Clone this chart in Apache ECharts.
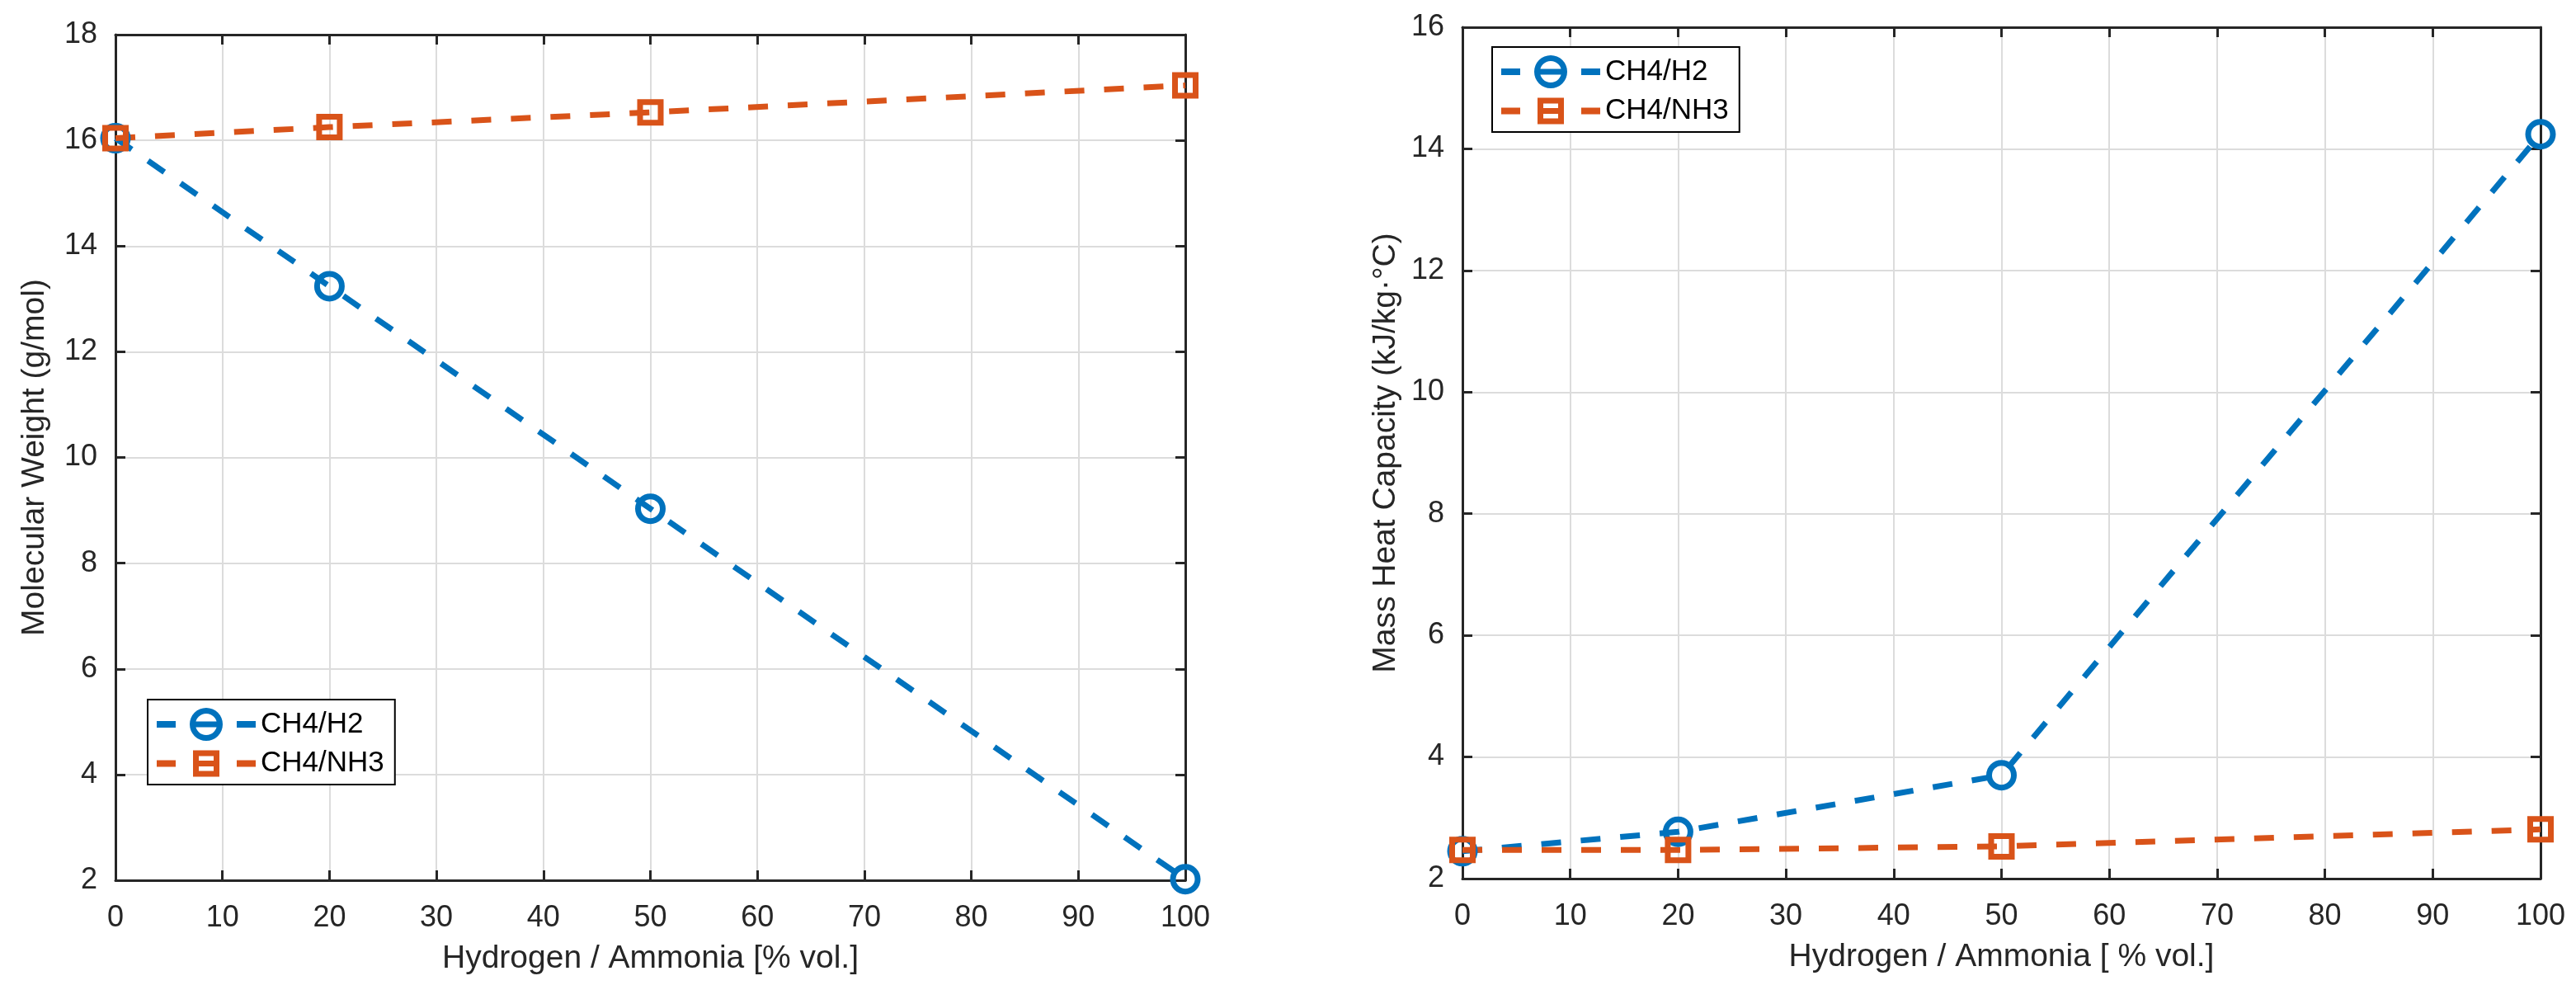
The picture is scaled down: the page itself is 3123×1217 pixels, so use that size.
<!DOCTYPE html>
<html>
<head>
    <meta charset="utf-8">
    <title>CH4 blends</title>
    <script src="https://cdn.jsdelivr.net/npm/echarts@6/dist/echarts.min.js"></script>
    <style>
        html, body { margin: 0; padding: 0; background: #fff; }
        #chart { width: 3123px; height: 1217px; }
    </style>
</head>
<body>
<div id="chart"></div>
<script>
    // x values: hydrogen / ammonia share [% vol.]
    const fractions = [0, 20, 50, 100];
    const seriesNames = ['CH4/H2', 'CH4/NH3'];

    // left: molecular weight (g/mol)
    const mwH2 = [16.04, 13.24, 9.03, 2.02];
    const mwNH3 = [16.04, 16.25, 16.53, 17.04];

    // right: mass heat capacity (kJ/kg.°C)
    const cpH2 = [2.45, 2.77, 3.70, 14.24];
    const cpNH3 = [2.47, 2.47, 2.53, 2.81];

    const BLUE = '#0072BD';
    const ORANGE = '#D95319';
    const TXT = '#262626';
    const FONT = 'Liberation Sans';

    // MATLAB-like legend glyphs: dash, marker with line through it, dash
    const ICON_CIRCLE = 'path://M0 16H23V24H0Z M97 16H120V24H97Z ' +
        'M40 20A20 20 0 1 1 80 20A20 20 0 1 1 40 20Z ' +
        'M47 20A13 13 0 1 0 73 20A13 13 0 1 0 47 20Z M47 16.5H73V23.5H47Z';
    const ICON_SQUARE = 'path://M0 16H23V24H0Z M97 16H120V24H97Z ' +
        'M44 4H76V36H44Z M51 11V29H69V11Z M51 16.5H69V23.5H51Z';

    function pts(ys) {
        return fractions.map((x, i) => [x, ys[i]]);
    }

    function xAxes(grid, title) {
        const base = {
            gridIndex: grid, type: 'value', min: 0, max: 100, interval: 10,
            axisLine: { onZero: false, lineStyle: { color: TXT, width: 3 } },
            axisTick: { inside: true, length: 12, lineStyle: { width: 3, color: TXT } }
        };
        return [
            Object.assign({}, base, {
                position: 'bottom',
                name: title, nameLocation: 'middle', nameGap: 76,
                nameTextStyle: { fontSize: 39, color: TXT, fontFamily: FONT },
                axisLabel: { fontSize: 36, color: TXT, fontFamily: FONT, margin: 28 },
                splitLine: { show: true, lineStyle: { color: '#dcdcdc', width: 2 } }
            }),
            Object.assign({}, base, {
                position: 'top',
                axisLabel: { show: false },
                splitLine: { show: false }
            })
        ];
    }

    function yAxes(grid, min, max, title, gap) {
        const base = {
            gridIndex: grid, type: 'value', min: min, max: max, interval: 2,
            axisLine: { show: true, onZero: false, lineStyle: { color: TXT, width: 3 } },
            axisTick: { show: true, inside: true, length: 12, lineStyle: { width: 3, color: TXT } }
        };
        return [
            Object.assign({}, base, {
                position: 'left',
                name: title, nameLocation: 'middle', nameGap: gap,
                nameTextStyle: { fontSize: 39, color: TXT, fontFamily: FONT },
                axisLabel: { fontSize: 36, color: TXT, fontFamily: FONT, margin: 22 },
                splitLine: { show: true, lineStyle: { color: '#dcdcdc', width: 2 } }
            }),
            Object.assign({}, base, {
                position: 'right',
                axisLabel: { show: false },
                splitLine: { show: false }
            })
        ];
    }

    function lineSeries(name, ys, xi, yi, color, symbol, size) {
        return {
            name: name, type: 'line', xAxisIndex: xi, yAxisIndex: yi,
            data: pts(ys),
            clip: false,
            symbol: symbol, symbolSize: size,
            lineStyle: { color: color, width: 7, type: [24, 24] },
            itemStyle: { color: 'rgba(0,0,0,0)', borderColor: color, borderWidth: 7 },
            emphasis: { disabled: true },
            animation: false
        };
    }

    function legend(left, top) {
        return {
            orient: 'vertical', left: left, top: top,
            itemWidth: 120, itemHeight: 40, itemGap: 10,
            symbolKeepAspect: true,
            padding: [10, 13, 8, 11],
            borderColor: '#000', borderWidth: 2, backgroundColor: '#fff',
            textStyle: { fontSize: 35, color: '#000', fontFamily: FONT, padding: [0, 0, 0, 1] },
            selectedMode: false,
            data: [
                { name: seriesNames[0], icon: ICON_CIRCLE, itemStyle: { color: BLUE, borderWidth: 0 } },
                { name: seriesNames[1], icon: ICON_SQUARE, itemStyle: { color: ORANGE, borderWidth: 0 } }
            ]
        };
    }

    const chart = echarts.init(document.getElementById('chart'));
    chart.setOption({
        backgroundColor: '#fff',
        textStyle: { fontFamily: FONT },
        grid: [
            { left: 140, right: 1686, top: 42, bottom: 150 },
            { left: 1773, right: 43, top: 33, bottom: 152 }
        ],
        legend: [legend(179, 848), legend(1809, 57)],
        xAxis: xAxes(0, 'Hydrogen / Ammonia [% vol.]')
            .concat(xAxes(1, 'Hydrogen / Ammonia [ % vol.]')),
        yAxis: yAxes(0, 2, 18, 'Molecular Weight (g/mol)', 78)
            .concat(yAxes(1, 2, 16, 'Mass Heat Capacity (kJ/kg\u00b7\u00b0C)', 73)),
        series: [
            lineSeries(seriesNames[0], mwH2, 0, 0, BLUE, 'circle', 30),
            lineSeries(seriesNames[1], mwNH3, 0, 0, ORANGE, 'rect', 25),
            lineSeries(seriesNames[0], cpH2, 2, 2, BLUE, 'circle', 30),
            lineSeries(seriesNames[1], cpNH3, 2, 2, ORANGE, 'rect', 25)
        ]
    });
</script>
</body>
</html>
